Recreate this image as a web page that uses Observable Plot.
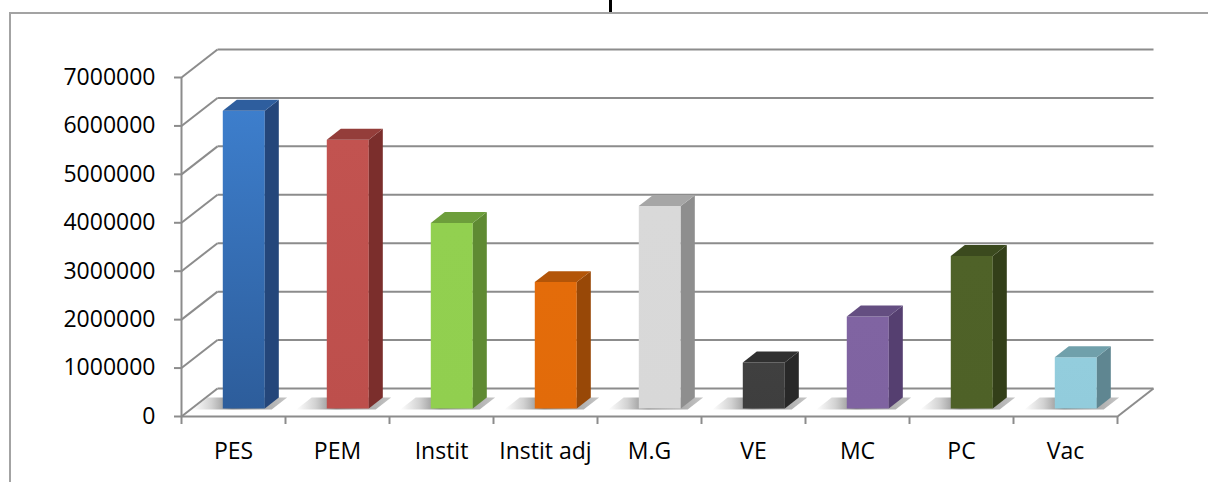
<!DOCTYPE html>
<html><head><meta charset="utf-8">
<script src="https://cdn.jsdelivr.net/npm/d3@7"></script>
<script src="https://cdn.jsdelivr.net/npm/@observablehq/plot@0.6"></script>
<style>
html,body{margin:0;padding:0;background:#fff;}
#wrap{position:relative;width:1208px;height:482px;overflow:hidden;}
#frame{position:absolute;left:9px;top:12px;right:-5px;bottom:-5px;border-left:2px solid #a3a3a3;border-top:2px solid #a3a3a3;}
#mark{position:absolute;left:609px;top:0;width:3px;height:12px;background:#000;}
#chart{position:absolute;left:0;top:0;}
</style></head><body>
<div id="wrap"><div id="frame"></div><div id="mark"></div><div id="chart"></div></div>
<script>
// ---- data ----
const categories = ["PES", "PEM", "Instit", "Instit adj", "M.G", "VE", "MC", "PC", "Vac"];
const values = [6150000, 5550000, 3830000, 2610000, 4180000, 950000, 1900000, 3150000, 1060000];
const frontTop    = ["#3d7ecc", "#c25350", "#92d050", "#e46c0a", "#d9d9d9", "#404040", "#8064a2", "#4f6228", "#93cddd"];
const frontBottom = ["#2d5d9b", "#bd4f4c", "#91cf4f", "#e26b0a", "#d8d8d8", "#3e3e3e", "#7f63a1", "#4e6127", "#92ccdc"];
const sideColors  = ["#24467a", "#7b2e2c", "#5f8a33", "#984807", "#8e8e8e", "#282828", "#553f70", "#333f19", "#5f8691"];
const topColors   = ["#2e5e9e", "#943d3a", "#6d9e3b", "#b35508", "#a6a6a6", "#303030", "#644e81", "#3b4a1e", "#70a0ab"];
const yTicks = [0, 1000000, 2000000, 3000000, 4000000, 5000000, 6000000, 7000000];

// ---- oblique projection (depth vector in data units) ----
const DX = 36 / 104;            // back wall shift in category units
const DY = 28 * 7000000 / 339;  // back wall shift in value units
const n = categories.length;
const P = (x, v, d) => ({x: x + d * DX, y: v + d * DY});
const barL = 0.298, barR = 0.702, d1 = 0.286, d2 = 0.675;

// walls / grid
const links = [];
for (const v of yTicks) {
  links.push({a: P(0, v, 0), b: P(0, v, 1)});
  links.push({a: P(0, v, 1), b: P(n, v, 1)});
}
links.push({a: P(n, 0, 0), b: P(n, 0, 1)});

// floor shadows first, then bar faces
const faces = [];
const poly = (id, fill, pts) => pts.forEach(p => faces.push({id, fill, x: p.x, y: p.y}));
categories.forEach((c, i) => {
  const x0 = i + barL, x1 = i + barR;
  poly(c + "-shadow", "url(#shadowGrad)", [P(x0 - 0.28, 0, d1 - 0.04), P(x1 + 0.08, 0, d1 - 0.04), P(x1 + 0.08, 0, d2), P(x0 - 0.28, 0, d2)]);
});
categories.forEach((c, i) => {
  const v = values[i];
  const x0 = i + barL, x1 = i + barR;
  poly(c + "-front", `url(#front${i})`, [P(x0, 0, d1), P(x1, 0, d1), P(x1, v, d1), P(x0, v, d1)]);
  poly(c + "-side", sideColors[i], [P(x1, 0, d1), P(x1, 0, d2), P(x1, v, d2), P(x1, v, d1)]);
  poly(c + "-top", topColors[i], [P(x0, v, d1), P(x1, v, d1), P(x1, v, d2), P(x0, v, d2)]);
});

const grid = "#8c8c8c";
const chart = Plot.plot({
  width: 1208, height: 482,
  marginLeft: 181, marginRight: 91, marginTop: 77, marginBottom: 66,
  x: {domain: [0, n], axis: null},
  y: {domain: [0, 7000000], axis: null},
  color: {type: "identity"},
  style: {fontFamily: "'Open Sans', sans-serif", background: "transparent", color: "black"},
  marks: [
    Plot.link(links, {x1: d => d.a.x, y1: d => d.a.y, x2: d => d.b.x, y2: d => d.b.y, stroke: grid, strokeWidth: 2}),
    Plot.line(faces, {x: "x", y: "y", z: "id", fill: "fill", stroke: "none"}),
    Plot.ruleX([0], {y1: 0, y2: 7000000, stroke: grid, strokeWidth: 2}),
    Plot.ruleY([0], {x1: 0, x2: n, stroke: grid, strokeWidth: 2}),
    Plot.axisY({ticks: yTicks, tickFormat: d3.format("d"), tickSize: 7, tickPadding: 19, stroke: grid, strokeWidth: 2, fill: "black", fontSize: 23, label: null}),
    Plot.axisX({ticks: d3.range(n + 1), tickSize: 8, tickFormat: () => "", stroke: grid, strokeWidth: 2, label: null}),
    Plot.axisX({ticks: d3.range(n).map(i => i + 0.5), tickSize: 0, tickPadding: 26, tickFormat: d => categories[Math.floor(d)], fill: "black", fontSize: 23, label: null})
  ]
});

// gradients
const NS = "http://www.w3.org/2000/svg";
const defs = document.createElementNS(NS, "defs");
const mkGrad = (id, x2, y2, stops) => {
  const g = document.createElementNS(NS, "linearGradient");
  g.setAttribute("id", id);
  g.setAttribute("x1", "0"); g.setAttribute("y1", "0"); g.setAttribute("x2", x2); g.setAttribute("y2", y2);
  stops.forEach(([o, col, op]) => {
    const s = document.createElementNS(NS, "stop");
    s.setAttribute("offset", o); s.setAttribute("stop-color", col);
    if (op != null) s.setAttribute("stop-opacity", op);
    g.appendChild(s);
  });
  defs.appendChild(g);
};
categories.forEach((c, i) => mkGrad("front" + i, "0", "1", [[0, frontTop[i]], [1, frontBottom[i]]]));
mkGrad("shadowGrad", "1", "0", [[0, "#808080", 0], [0.2, "#808080", 0.35], [0.42, "#6a6a6a", 0.85], [1, "#8a8a8a", 0.5]]);
chart.insertBefore(defs, chart.firstChild);
document.getElementById("chart").appendChild(chart);
</script>
</body></html>
